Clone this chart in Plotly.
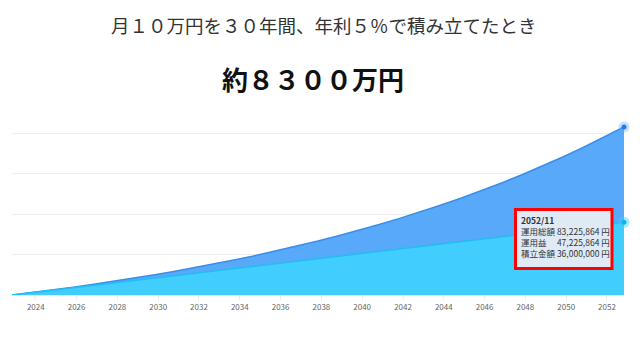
import plotly.graph_objects as go

# yearly points (Nov each year), values in yen
dates = [f"{2022 + k}-11-01" for k in range(31)]
total_value = [0, 1227900, 2518600, 3875300, 5301500, 6800600, 8376400, 10032900,
               11774000, 13604300, 15528200, 17550600, 19676400, 21910900, 24259800,
               26728900, 29324300, 32052500, 34920200, 37934700, 41103400, 44434100,
               47935300, 51615600, 55484200, 59550800, 63825300, 68318600, 73041800,
               78006600, 83225864]
contribution = [0, 1200000, 2400000, 3600000, 4800000, 6000000, 7200000, 8400000,
                9600000, 10800000, 12000000, 13200000, 14400000, 15600000, 16800000,
                18000000, 19200000, 20400000, 21600000, 22800000, 24000000, 25200000,
                26400000, 27600000, 28800000, 30000000, 31200000, 32400000, 33600000,
                34800000, 36000000]

title_text = "月１０万円を３０年間、年利５％で積み立てたとき"
headline = "約８３００万円"
tooltip_date = "2052/11"
tooltip_rows = [("運用総額", "83,225,864"), ("運用益　", "47,225,864"), ("積立金額", "36,000,000")]

FONT = "Noto Sans CJK JP"
W, H = 640, 360
ML, MR, MT, MB = 12, 16, 110, 65
PW, PH = W - ML - MR, H - MT - MB

def px(x):
    return (x - ML) / PW

def py(y):
    return (H - MB - y) / PH

fig = go.Figure()
fig.add_trace(go.Scatter(x=dates, y=total_value, mode="lines", fill="tozeroy",
                         line=dict(color="#3a8ee8", width=1.5), fillcolor="#58a9fa",
                         hoverinfo="skip", showlegend=False))
fig.add_trace(go.Scatter(x=dates, y=contribution, mode="lines", fill="tozeroy",
                         line=dict(color="#22bdf3", width=1.5), fillcolor="#41cdfd",
                         hoverinfo="skip", showlegend=False))
# hover markers at last point
for series, halo, dot in [(total_value, "rgba(88,169,250,0.35)", "#1f7de0"),
                          (contribution, "rgba(65,205,253,0.45)", "#12b3ee")]:
    fig.add_trace(go.Scatter(x=[dates[-1]], y=[series[-1]], mode="markers",
                             marker=dict(size=11, color=halo), cliponaxis=False,
                             hoverinfo="skip", showlegend=False))
    fig.add_trace(go.Scatter(x=[dates[-1]], y=[series[-1]], mode="markers",
                             marker=dict(size=5, color=dot), cliponaxis=False,
                             hoverinfo="skip", showlegend=False))

# tooltip box
fig.add_shape(type="rect", xref="paper", yref="paper", x0=px(515.5), x1=px(612),
              y0=py(209.5), y1=py(268.5), line=dict(color="#ff0000", width=3),
              fillcolor="#dfeaf5", layer="above")
lines = [f"<b>{tooltip_date}</b>"] + [f"{a} {b} 円" for a, b in tooltip_rows]
fig.add_annotation(xref="paper", yref="paper", x=px(518.5), y=py(236), xanchor="left",
                   yanchor="middle", text="<br>".join(lines), showarrow=False, align="left",
                   font=dict(family=FONT, size=8.5, color="#333333"))

fig.add_annotation(xref="paper", yref="paper", x=px(324), y=py(25),
                   xanchor="center", yanchor="middle", text=title_text, showarrow=False,
                   font=dict(family=FONT, size=18.5, color="#333333"))
fig.add_annotation(xref="paper", yref="paper", x=px(313), y=py(78),
                   xanchor="center", yanchor="middle", text=f"<b>{headline}</b>", showarrow=False,
                   font=dict(family=FONT, size=26, color="#111111"))

fig.update_layout(
    width=W, height=H, margin=dict(l=ML, r=MR, t=MT, b=MB),
    paper_bgcolor="white", plot_bgcolor="white",
    xaxis=dict(type="date", range=["2022-11-01", "2052-11-01"], tick0="2024-01-01",
               dtick="M24", tickformat="%Y", showgrid=False, showline=True,
               linecolor="#e3e8ef", linewidth=1, ticks="outside", ticklen=4,
               tickcolor="#e6e9ee", tickfont=dict(family=FONT, size=8, color="#666666"),
               fixedrange=True),
    yaxis=dict(range=[0, 91.6e6], dtick=20e6, showgrid=True, gridcolor="#eeeeee",
               gridwidth=1, showticklabels=False, zeroline=False, fixedrange=True),
)

fig.write_html("out.html")
